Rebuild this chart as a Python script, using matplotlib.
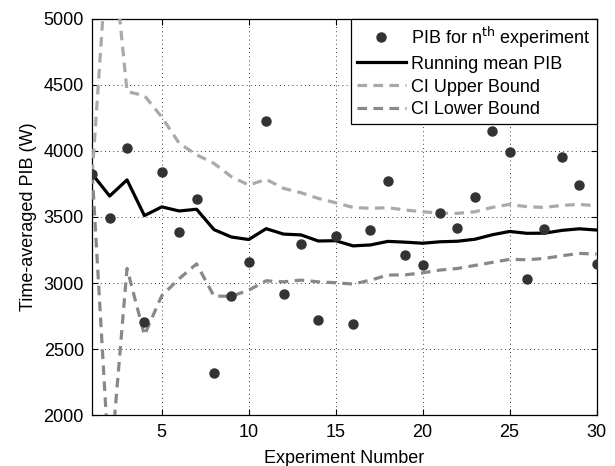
import numpy as np
import matplotlib
matplotlib.use("Agg")
import matplotlib.pyplot as plt

plt.rcParams["font.family"] = ["Liberation Sans", "DejaVu Sans"]

# ------------------------------------------------------------------
# Data
# ------------------------------------------------------------------
experiment = list(range(1, 31))

pib = [3824, 3491, 4024, 2702, 3840, 3388, 3638, 2323, 2901, 3161,
       4228, 2916, 3292, 2717, 3355, 2691, 3400, 3774, 3211, 3138,
       3527, 3416, 3648, 4152, 3993, 3029, 3408, 3955, 3741, 3145]

running_mean = [3824, 3658, 3780, 3510, 3576, 3545, 3558, 3404, 3348, 3329,
                3411, 3370, 3364, 3318, 3320, 3281, 3288, 3315, 3309, 3301,
                3312, 3316, 3331, 3365, 3390, 3376, 3377, 3398, 3410, 3401]

ci_upper = [3824, 5772, 4448, 4418, 4255, 4057, 3970, 3905, 3804, 3741,
            3784, 3716, 3683, 3640, 3607, 3572, 3565, 3570, 3552, 3539,
            3529, 3527, 3539, 3572, 3595, 3577, 3572, 3587, 3595, 3584]

ci_lower = [3824, 1542, 3110, 2606, 2905, 3033, 3145, 2901, 2900, 2946,
            3017, 3009, 3022, 3009, 3002, 2992, 3022, 3060, 3062, 3077,
            3098, 3110, 3133, 3156, 3179, 3176, 3186, 3206, 3224, 3219]

# ------------------------------------------------------------------
# Plot
# ------------------------------------------------------------------
fig = plt.figure(figsize=(6.15, 4.66), dpi=100)
ax = fig.add_axes([0.150, 0.109, 0.820, 0.851])

ax.plot(experiment, pib, "o", color="#333333", ms=6.5, mec="#333333",
        label="PIB for n$^{\\mathrm{th}}$ experiment", zorder=5)
ax.plot(experiment, running_mean, color="black", lw=2.3,
        label="Running mean PIB", zorder=4)
ax.plot(experiment, ci_upper, color="#aaaaaa", lw=2.3, dashes=(3, 2),
        label="CI Upper Bound", zorder=3)
ax.plot(experiment, ci_lower, color="#888888", lw=2.3, dashes=(3, 2),
        label="CI Lower Bound", zorder=3)

ax.set_xlim(1, 30)
ax.set_ylim(2000, 5000)
ax.set_xticks([5, 10, 15, 20, 25, 30])
ax.set_yticks(np.arange(2000, 5001, 500))
ax.grid(True, color="black", ls=(0, (1, 4)), lw=0.6)
ax.tick_params(direction="in", length=4, width=0.8, top=True, right=True,
               labelsize=13, pad=6)
for s in ax.spines.values():
    s.set_linewidth(0.9)

ax.set_xlabel("Experiment Number", fontsize=13, labelpad=7)
ax.set_ylabel("Time-averaged PIB (W)", fontsize=13, labelpad=5)

leg = ax.legend(loc="upper right", fontsize=13, borderaxespad=0,
                handlelength=2.7, handletextpad=0.3, labelspacing=0.33,
                borderpad=0.32, fancybox=False, framealpha=1)
leg.get_frame().set_edgecolor("black")
leg.get_frame().set_linewidth(0.9)

fig.savefig("out.png", dpi=100)
